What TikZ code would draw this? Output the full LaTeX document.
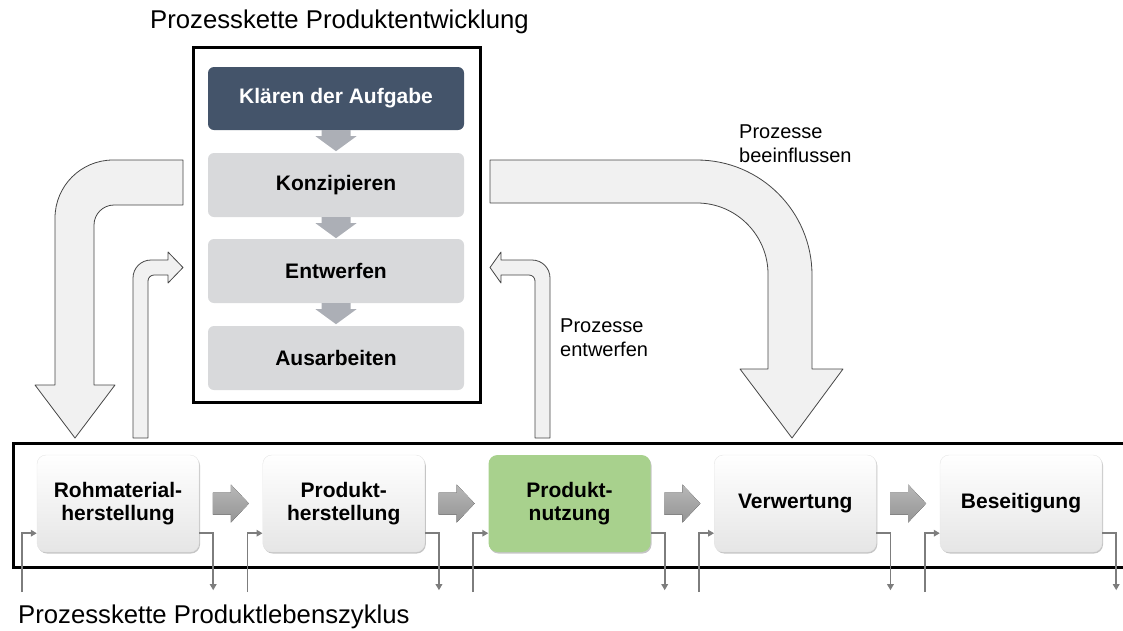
\documentclass[tikz,border=0pt]{standalone}
\usepackage{fontspec}
\setmainfont{Liberation Sans}
\usetikzlibrary{arrows.meta,calc,shadows}

\definecolor{slate}{RGB}{68,84,106}
\definecolor{stepgray}{RGB}{216,217,219}
\definecolor{flowgray}{RGB}{172,175,182}
\definecolor{usegreen}{RGB}{168,209,141}
\definecolor{bigfill}{RGB}{241,241,241}
\definecolor{bigline}{RGB}{70,70,70}
\definecolor{iogray}{RGB}{125,125,125}

\begin{document}
\begin{tikzpicture}[x=1pt,y=-1pt,
  phasebox/.style={rounded corners=6pt, fill=stepgray, minimum width=256pt,
    minimum height=64pt, inner sep=0pt,
    font=\fontsize{21}{23}\selectfont\bfseries},
  lifebase/.style={rounded corners=9pt, minimum width=162pt, minimum height=97pt,
    align=center, inner sep=0pt, font=\fontsize{21}{22.5}\selectfont\bfseries,
    drop shadow={shadow xshift=1pt,shadow yshift=-1.5pt,fill=black!45,opacity=.5}},
  lifebox/.style={lifebase, top color=white, bottom color=black!10, draw=black!10},
  usebox/.style={lifebase, fill=usegreen},
  bigarrow/.style={fill=bigfill, draw=bigline, line width=0.8pt, line join=round},
  flowarrow/.style={fill=flowgray},
  chevron/.style={top color=black!28, bottom color=black!42},
  io/.style={draw=iogray, line width=1.8pt, -{Triangle[length=6pt,width=6.5pt]}},
  frame/.style={line width=3pt},
  plain/.style={font=\fontsize{20}{24}\selectfont, inner sep=0pt, align=left}
]
\useasboundingbox (0,0) rectangle (1123,630);

% large bent arrow: development process down to the life cycle
\draw[bigarrow] (183,160) -- (113,160)
  .. controls (81,160) and (55,186) .. (55,218)
  -- (55,385) -- (35,385) -- (75,438) -- (115,385) -- (94,385) -- (94,225)
  .. controls (94,214) and (103,205) .. (114,205)
  -- (183,205) -- cycle;

% large bent arrow: "Prozesse beeinflussen"
\draw[bigarrow] (490,160) -- (697,160)
  .. controls (760.5,160) and (812,211.5) .. (812,275)
  -- (812,369) -- (843,369) -- (792,438) -- (740,369) -- (768,369) -- (768,274)
  .. controls (768,235) and (736,203) .. (697,203)
  -- (490,203) -- cycle;

% small feedback arrow on the left
\draw[bigarrow] (133,438) -- (133,278)
  .. controls (133,268) and (141,260) .. (151,260)
  -- (168,260) -- (168,252) -- (183,267.5) -- (168,283) -- (168,275) -- (154,275)
  .. controls (150.7,275) and (148,277.7) .. (148,281)
  -- (148,438) -- cycle;

% small feedback arrow "Prozesse entwerfen"
\draw[bigarrow] (550,438) -- (550,278)
  .. controls (550,268) and (542,260) .. (532,260)
  -- (501,260) -- (501,252) -- (490,267.5) -- (501,283) -- (501,275) -- (529,275)
  .. controls (532.3,275) and (535,277.7) .. (535,281)
  -- (535,438) -- cycle;

% frame of the product life cycle chain (open to the right)
\draw[frame] (1126,443) -- (13,443) -- (13,567) -- (1126,567);

% frame of the product development chain
\node[draw, frame, minimum width=287pt, minimum height=355pt, inner sep=0pt]
  (dev) at (336.5,224.5) {};

% development phases
\node[phasebox, fill=slate, text=white, minimum height=63pt] (k) at (336,98.5) {Klären der Aufgabe};
\node[phasebox] (z) at (336,185) {Konzipieren};
\node[phasebox] (e) at (336,271) {Entwerfen};
\node[phasebox] (a) at (336,358) {Ausarbeiten};

\foreach \p in {k,z,e}
  \fill[flowarrow] ($(\p.south)+(-14.5,0)$) -- ++(29,0) -- ++(0,6) -- ++(6,0)
    -- ++(-20.5,15) -- ++(-20.5,-15) -- ++(6,0) -- cycle;

% life cycle phases
\node[lifebox] (b1) at (118,503.5)    {Rohmaterial-\\herstellung};
\node[lifebox] (b2) at (343.75,503.5) {Produkt-\\herstellung};
\node[usebox]  (b3) at (569.5,503.5)  {Produkt-\\nutzung};
\node[lifebox] (b4) at (795.25,503.5) {Verwertung};
\node[lifebox] (b5) at (1021,503.5)   {Beseitigung};

\foreach \u/\v in {b1/b2,b2/b3,b3/b4,b4/b5}
  \fill[chevron] ($($(\u.east)!.5!(\v.west)$)+(-18,-11)$) -- ++(18,0) -- ++(0,-8)
    -- ++(18,19) -- ++(-18,19) -- ++(0,-8) -- ++(-18,0) -- cycle;

% inputs and outputs of each life cycle phase
\foreach \b in {b1,b2,b3,b4,b5}{
  \draw[io] ($(\b.south west)+(-15,40)$) |- ($(\b.south west)+(0,-19)$);
  \draw[io] ($(\b.south east)+(0,-19)$) -| ($(\b.south east)+(14,38)$);
}

% captions
\node[anchor=base west, inner sep=0pt, font=\fontsize{25.7}{28}\selectfont]
  (ttl) at (150,28) {Prozesskette Produktentwicklung};
\node[anchor=base west, inner sep=0pt, font=\fontsize{25.7}{28}\selectfont]
  (cap) at (18,623) {Prozesskette Produktlebenszyklus};
\node[plain, anchor=north west] (infl) at (739,124.5) {Prozesse\\beeinflussen};
\node[plain, anchor=north west] (entw) at (560,318.5) {Prozesse\\entwerfen};
\end{tikzpicture}
\end{document}
